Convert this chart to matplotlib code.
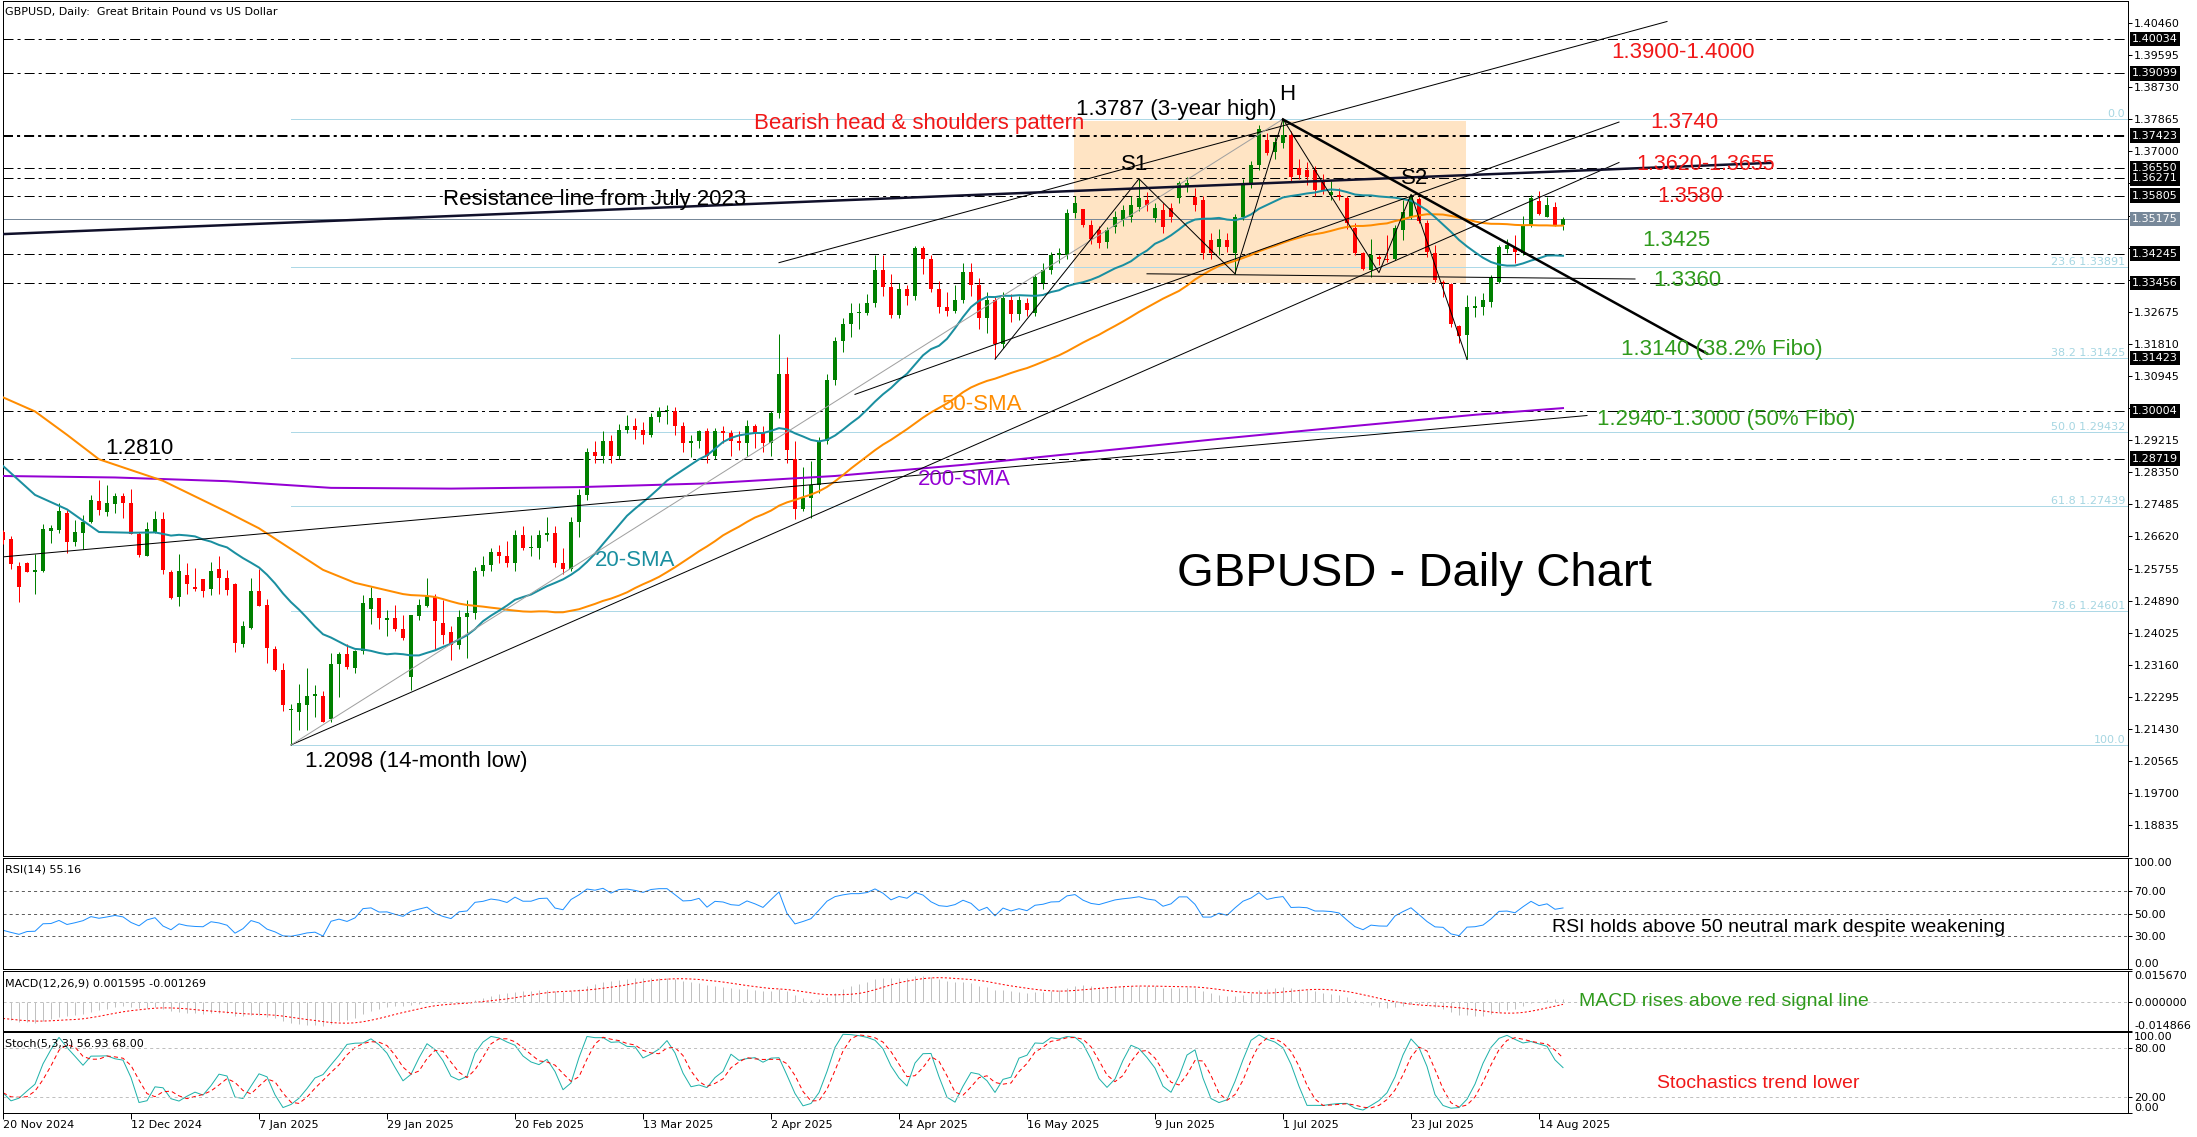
import numpy as np
import pandas as pd
import matplotlib
matplotlib.use('Agg')
import matplotlib.pyplot as plt
from matplotlib import transforms
from matplotlib.patches import Rectangle

plt.rcParams['font.family'] = ['DejaVu Sans']
plt.rcParams['font.size'] = 8
plt.rcParams['lines.scale_dashes'] = False

W, H, DPI = 2197, 1137, 100
PX = 72 / DPI  # points per pixel

# ---------------- daily GBPUSD bars (bar 0 = 20 Nov 2024, last = 19 Aug 2025) ----------------
opens = [
    1.2674, 1.2654, 1.2582, 1.2591, 1.2567, 1.2569, 1.2677, 1.2679, 1.2724, 1.2648,
    1.2672, 1.2702, 1.2757, 1.2729, 1.2749, 1.2771, 1.2751, 1.2668, 1.2610, 1.2674,
    1.2708, 1.2565, 1.2499, 1.2559, 1.2526, 1.2546, 1.2520, 1.2573, 1.2549, 1.2533,
    1.2373, 1.2415, 1.2514, 1.2476, 1.2360, 1.2303, 1.2193, 1.2190, 1.2208, 1.2233,
    1.2233, 1.2170, 1.2319, 1.2344, 1.2308, 1.2353, 1.2466, 1.2495, 1.2438, 1.2443,
    1.2413, 1.2283, 1.2448, 1.2475, 1.2499, 1.2430, 1.2405, 1.2370, 1.2445, 1.2455,
    1.2570, 1.2585, 1.2620, 1.2610, 1.2590, 1.2665, 1.2630, 1.2630, 1.2665, 1.2670,
    1.2590, 1.2575, 1.2700, 1.2775, 1.2890, 1.2880, 1.2920, 1.2880, 1.2950, 1.2960,
    1.2950, 1.2935, 1.2985, 1.3000, 1.3000, 1.2960, 1.2915, 1.2920, 1.2945, 1.2880,
    1.2945, 1.2940, 1.2920, 1.2915, 1.2960, 1.2940, 1.2915, 1.2995, 1.3100, 1.2870,
    1.2735, 1.2765, 1.2800, 1.2920, 1.3085, 1.3190, 1.3235, 1.3265, 1.3265, 1.3290,
    1.3380, 1.3335, 1.3260, 1.3330, 1.3310, 1.3440, 1.3410, 1.3330, 1.3280, 1.3270,
    1.3300, 1.3375, 1.3340, 1.3250, 1.3300, 1.3180, 1.3300, 1.3262, 1.3290, 1.3263,
    1.3344, 1.3380, 1.3420, 1.3420, 1.3533, 1.3545, 1.3501, 1.3488, 1.3456, 1.3497,
    1.3515, 1.3524, 1.3551, 1.3569, 1.3520, 1.3542, 1.3546, 1.3573, 1.3605, 1.3578,
    1.3569, 1.3461, 1.3443, 1.3461, 1.3425, 1.3524, 1.3614, 1.3663, 1.3731, 1.3699,
    1.3722, 1.3744, 1.3654, 1.3651, 1.3650, 1.3623, 1.3582, 1.3582, 1.3573, 1.3493,
    1.3425, 1.3380, 1.3416, 1.3411, 1.3411, 1.3488, 1.3524, 1.3571, 1.3508, 1.3425,
    1.3349, 1.3342, 1.3229, 1.3205, 1.3279, 1.3280, 1.3295, 1.3349, 1.3438, 1.3443,
    1.3425, 1.3501, 1.3567, 1.3524, 1.3549, 1.3501,
]
highs = [
    1.2679, 1.2663, 1.2594, 1.2594, 1.2616, 1.2695, 1.2693, 1.2751, 1.2733, 1.2706,
    1.2721, 1.2774, 1.2814, 1.2800, 1.2780, 1.2780, 1.2789, 1.2674, 1.2702, 1.2730,
    1.2727, 1.2571, 1.2614, 1.2591, 1.2576, 1.2546, 1.2594, 1.2609, 1.2571, 1.2537,
    1.2434, 1.2551, 1.2573, 1.2494, 1.2368, 1.2321, 1.2211, 1.2265, 1.2307, 1.2262,
    1.2245, 1.2348, 1.2351, 1.2373, 1.2355, 1.2504, 1.2526, 1.2497, 1.2465, 1.2478,
    1.2449, 1.2449, 1.2494, 1.2551, 1.2508, 1.2490, 1.2420, 1.2465, 1.2490, 1.2580,
    1.2610, 1.2630, 1.2640, 1.2650, 1.2680, 1.2690, 1.2665, 1.2680, 1.2715, 1.2690,
    1.2630, 1.2715, 1.2790, 1.2900, 1.2920, 1.2945, 1.2935, 1.2965, 1.2990, 1.2980,
    1.2970, 1.2995, 1.3010, 1.3015, 1.3010, 1.2970, 1.2935, 1.2950, 1.2955, 1.2955,
    1.2960, 1.2950, 1.2945, 1.2975, 1.2965, 1.2960, 1.3000, 1.3207, 1.3145, 1.2920,
    1.2850, 1.2865, 1.2930, 1.3100, 1.3200, 1.3250, 1.3290, 1.3290, 1.3315, 1.3420,
    1.3420, 1.3370, 1.3345, 1.3340, 1.3445, 1.3445, 1.3420, 1.3350, 1.3320, 1.3340,
    1.3400, 1.3400, 1.3360, 1.3320, 1.3310, 1.3320, 1.3315, 1.3310, 1.3305, 1.3370,
    1.3400, 1.3430, 1.3440, 1.3545, 1.3580, 1.3545, 1.3515, 1.3500, 1.3495, 1.3540,
    1.3555, 1.3580, 1.3626, 1.3590, 1.3560, 1.3560, 1.3560, 1.3620, 1.3630, 1.3600,
    1.3580, 1.3480, 1.3490, 1.3480, 1.3530, 1.3625, 1.3675, 1.3771, 1.3750, 1.3740,
    1.3787, 1.3755, 1.3680, 1.3670, 1.3660, 1.3640, 1.3620, 1.3600, 1.3580, 1.3506,
    1.3430, 1.3465, 1.3420, 1.3474, 1.3501, 1.3569, 1.3584, 1.3578, 1.3515, 1.3447,
    1.3353, 1.3344, 1.3232, 1.3313, 1.3310, 1.3317, 1.3367, 1.3447, 1.3465, 1.3474,
    1.3527, 1.3582, 1.3594, 1.3578, 1.3564, 1.3524,
]
lows = [
    1.2643, 1.2575, 1.2486, 1.2565, 1.2508, 1.2567, 1.2645, 1.2672, 1.2618, 1.2636,
    1.2629, 1.2697, 1.2719, 1.2717, 1.2724, 1.2713, 1.2668, 1.2607, 1.2610, 1.2670,
    1.2562, 1.2493, 1.2475, 1.2508, 1.2514, 1.2499, 1.2504, 1.2508, 1.2505, 1.2351,
    1.2364, 1.2413, 1.2475, 1.2321, 1.2299, 1.2191, 1.2100, 1.2139, 1.2139, 1.2175,
    1.2161, 1.2161, 1.2229, 1.2305, 1.2294, 1.2346, 1.2427, 1.2413, 1.2393, 1.2407,
    1.2382, 1.2247, 1.2436, 1.2472, 1.2357, 1.2373, 1.2330, 1.2360, 1.2335, 1.2440,
    1.2555, 1.2570, 1.2590, 1.2580, 1.2570, 1.2625, 1.2610, 1.2600, 1.2650, 1.2580,
    1.2560, 1.2570, 1.2660, 1.2760, 1.2860, 1.2860, 1.2860, 1.2870, 1.2940, 1.2925,
    1.2910, 1.2930, 1.2970, 1.2965, 1.2935, 1.2890, 1.2875, 1.2900, 1.2860, 1.2870,
    1.2915, 1.2880, 1.2895, 1.2880, 1.2900, 1.2890, 1.2880, 1.2980, 1.2860, 1.2708,
    1.2730, 1.2712, 1.2780, 1.2910, 1.3070, 1.3160, 1.3200, 1.3220, 1.3260, 1.3280,
    1.3310, 1.3250, 1.3250, 1.3285, 1.3300, 1.3370, 1.3320, 1.3265, 1.3255, 1.3265,
    1.3290, 1.3310, 1.3220, 1.3210, 1.3140, 1.3170, 1.3240, 1.3245, 1.3255, 1.3255,
    1.3330, 1.3370, 1.3400, 1.3410, 1.3520, 1.3495, 1.3450, 1.3440, 1.3440, 1.3480,
    1.3500, 1.3510, 1.3540, 1.3540, 1.3510, 1.3480, 1.3510, 1.3560, 1.3590, 1.3540,
    1.3410, 1.3410, 1.3420, 1.3430, 1.3370, 1.3515, 1.3600, 1.3650, 1.3690, 1.3680,
    1.3710, 1.3620, 1.3625, 1.3610, 1.3580, 1.3585, 1.3570, 1.3570, 1.3490, 1.3420,
    1.3380, 1.3362, 1.3393, 1.3402, 1.3407, 1.3461, 1.3519, 1.3506, 1.3416, 1.3349,
    1.3308, 1.3227, 1.3184, 1.3139, 1.3254, 1.3259, 1.3281, 1.3346, 1.3425, 1.3398,
    1.3420, 1.3495, 1.3528, 1.3522, 1.3499, 1.3488,
]
closes = [
    1.2652, 1.2587, 1.2526, 1.2567, 1.2571, 1.2681, 1.2685, 1.2731, 1.2648, 1.2673,
    1.2702, 1.2760, 1.2733, 1.2751, 1.2771, 1.2751, 1.2668, 1.2612, 1.2681, 1.2708,
    1.2571, 1.2497, 1.2568, 1.2533, 1.2520, 1.2515, 1.2569, 1.2551, 1.2517, 1.2375,
    1.2421, 1.2514, 1.2475, 1.2361, 1.2303, 1.2208, 1.2198, 1.2213, 1.2231, 1.2238,
    1.2161, 1.2319, 1.2346, 1.2310, 1.2353, 1.2483, 1.2495, 1.2441, 1.2443, 1.2413,
    1.2387, 1.2449, 1.2476, 1.2501, 1.2434, 1.2396, 1.2370, 1.2445, 1.2455, 1.2570,
    1.2585, 1.2620, 1.2610, 1.2590, 1.2665, 1.2630, 1.2630, 1.2665, 1.2670, 1.2590,
    1.2575, 1.2700, 1.2775, 1.2890, 1.2880, 1.2920, 1.2880, 1.2950, 1.2960, 1.2950,
    1.2935, 1.2985, 1.3000, 1.3000, 1.2960, 1.2915, 1.2920, 1.2945, 1.2880, 1.2945,
    1.2940, 1.2920, 1.2915, 1.2960, 1.2940, 1.2915, 1.2995, 1.3100, 1.2895, 1.2735,
    1.2765, 1.2800, 1.2920, 1.3085, 1.3190, 1.3235, 1.3265, 1.3265, 1.3290, 1.3380,
    1.3335, 1.3260, 1.3330, 1.3310, 1.3440, 1.3410, 1.3330, 1.3280, 1.3270, 1.3300,
    1.3375, 1.3340, 1.3250, 1.3300, 1.3180, 1.3305, 1.3262, 1.3300, 1.3272, 1.3362,
    1.3380, 1.3420, 1.3425, 1.3533, 1.3560, 1.3501, 1.3465, 1.3452, 1.3488, 1.3524,
    1.3542, 1.3555, 1.3573, 1.3555, 1.3546, 1.3497, 1.3524, 1.3614, 1.3614, 1.3555,
    1.3425, 1.3425, 1.3465, 1.3443, 1.3524, 1.3614, 1.3663, 1.3760, 1.3695, 1.3726,
    1.3744, 1.3632, 1.3636, 1.3630, 1.3596, 1.3596, 1.3591, 1.3578, 1.3506, 1.3425,
    1.3382, 1.3420, 1.3409, 1.3407, 1.3493, 1.3537, 1.3578, 1.3511, 1.3429, 1.3353,
    1.3346, 1.3236, 1.3202, 1.3280, 1.3284, 1.3299, 1.3358, 1.3443, 1.3447, 1.3429,
    1.3499, 1.3573, 1.3531, 1.3555, 1.3501, 1.3517,
]

# date labels on the time axis (every 16 bars)
date_ticks = [0, 16, 32, 48, 64, 80, 96, 112, 128, 144, 160, 176, 192]
date_labels = ['20 Nov 2024', '12 Dec 2024', '7 Jan 2025', '29 Jan 2025', '20 Feb 2025',
               '13 Mar 2025', '2 Apr 2025', '24 Apr 2025', '16 May 2025', '9 Jun 2025',
               '1 Jul 2025', '23 Jul 2025', '14 Aug 2025']

# moving averages before their window is full
sma20_head_bar = [0, 4, 8, 12, 16]
sma20_head = [1.2852, 1.2774, 1.2735, 1.2674, 1.2672]
sma50_head_bar = [0, 4, 8, 12, 16, 20, 24, 28, 32, 36, 40, 44]
sma50_head = [1.3037, 1.2999, 1.2936, 1.2870, 1.2841, 1.2812, 1.2770, 1.2728,
              1.2684, 1.2628, 1.2572, 1.2537]
sma200_bar = [0, 14, 28, 41, 56, 72, 88, 104, 120, 136, 152, 168, 184, 195]
sma200 = [1.2825, 1.2821, 1.2811, 1.2793, 1.2791, 1.2795, 1.2805, 1.2825, 1.2855,
          1.2890, 1.2925, 1.2958, 1.2990, 1.3008]

# indicator state on the first bar
EMA12_START, EMA26_START = 1.2760, 1.2845
RSI_GAIN_START, RSI_LOSS_START = 0.0030, 0.0056

# horizontal levels
dash_levels = [1.40034, 1.39099, 1.37423, 1.36550, 1.36271, 1.35805, 1.34245,
               1.33456, 1.30004, 1.28719]
box_levels = [1.40034, 1.39099, 1.37423, 1.36550, 1.36271, 1.35805, 1.34245,
              1.33456, 1.31423, 1.30004, 1.28719]
last_price = 1.35175
fibo_high, fibo_low = 1.37877, 1.20987
fibo_ratios = [0.0, 23.6, 38.2, 50.0, 61.8, 78.6, 100.0]

# drawn objects (bar, price)
res_line = ([0, 221], [1.3477, 1.3669])
desc_line = ([160, 213], [1.3786, 1.3155])
chan_low = ([36, 202], [1.2100, 1.3670])
chan_mid = ([106.5, 202], [1.3045, 1.3779])
chan_up = ([97, 208], [1.3400, 1.4050])
grey_line = ([36, 160], [1.2100, 1.3787])
long_line = ([0, 198], [1.2607, 1.2988])
neckline = ([143, 204], [1.3370, 1.3356])
zigzag_bar = [124, 142, 154, 160, 172, 176, 183]
zigzag_px = [1.3140, 1.3626, 1.3370, 1.3787, 1.3373, 1.3584, 1.3139]
hs_box = (133.9, 182.9, 1.33452, 1.3782)

# ---------------- indicators ----------------
n = len(closes)
bars = np.arange(n)
o, h, l, c = map(np.array, (opens, highs, lows, closes))
cs = pd.Series(c)

sma20_x = sma20_head_bar + list(range(19, n))
sma20_y = sma20_head + list(cs.rolling(20).mean()[19:])
sma50_x = sma50_head_bar + list(range(49, n))
sma50_y = sma50_head + list(cs.rolling(50).mean()[49:])

ema12, ema26 = [EMA12_START], [EMA26_START]
for cl in c[1:]:
    ema12.append(ema12[-1] + (cl - ema12[-1]) * 2 / 13)
    ema26.append(ema26[-1] + (cl - ema26[-1]) * 2 / 27)
macd = np.array(ema12) - np.array(ema26)
signal = pd.Series(macd).rolling(9, min_periods=1).mean().values

gain, loss = RSI_GAIN_START, RSI_LOSS_START
rsi = [100 - 100 / (1 + gain / loss)]
for d in np.diff(c):
    gain = (gain * 13 + max(d, 0)) / 14
    loss = (loss * 13 + max(-d, 0)) / 14
    rsi.append(100 - 100 / (1 + gain / loss))

hh = pd.Series(h).rolling(5, min_periods=1).max()
ll = pd.Series(l).rolling(5, min_periods=1).min()
stoch_k = 100 * (cs - ll).rolling(3, min_periods=1).sum() / (hh - ll).rolling(3, min_periods=1).sum()
stoch_d = stoch_k.rolling(3, min_periods=1).mean()

# ---------------- figure ----------------
GREEN, RED = '#008000', '#ff0000'
TXT_RED, TXT_GREEN = '#f01818', '#2f9a1c'
FIBO = '#add8e6'

fig = plt.figure(figsize=(W / DPI, H / DPI), dpi=DPI)
fig.patch.set_facecolor('white')
X0, X1 = 2.5, 2128.0


def panel(top, bottom):
    a = fig.add_axes([X0 / W, 1 - bottom / H, (X1 - X0) / W, (bottom - top) / H])
    a.set_xlim(-0.0625, 265.625)
    for s in a.spines.values():
        s.set_linewidth(PX)
    a.tick_params(axis='x', bottom=False, labelbottom=False)
    a.yaxis.tick_right()
    a.tick_params(axis='y', direction='out', length=4 * PX, width=PX, pad=1.5, labelsize=8)
    return a


ax = panel(1, 856)
ax_rsi = panel(858, 969)
ax_macd = panel(971, 1031)
ax_st = panel(1032, 1113)

# main price panel
ax.set_ylim(1.18007, 1.41053)
yt = 1.40460 - 0.00865 * np.arange(26)
ax.set_yticks(yt)
# labels that sit under a price box are not shown
ax.set_yticklabels(['' if min(abs(v - b) for b in box_levels + [last_price]) < 0.0032
                    else f'{v:.5f}' for v in yt])

ax.add_patch(Rectangle((hs_box[0], hs_box[2]), hs_box[1] - hs_box[0], hs_box[3] - hs_box[2],
                       fc='#ffe4c4', ec='none', zorder=0.5))

DASHDOT = (0, (7.2, 2.9, 2.2, 2.9))
for v in dash_levels:
    ax.axhline(v, color='black', lw=(2 if v == 1.37423 else 1) * PX, ls=DASHDOT, zorder=2)
ax.axhline(last_price, color='#778899', lw=PX, zorder=2)

blend = transforms.blended_transform_factory(ax.transAxes, ax.transData)
for r in fibo_ratios:
    v = fibo_high - (fibo_high - fibo_low) * r / 100
    ax.plot([36, 266], [v, v], color=FIBO, lw=PX, zorder=1)
    lab = f'{r:.1f}' if r in (0.0, 100.0) else f'{r:.1f} {v:.5f}'
    ax.text((2125 - X0) / (X1 - X0), v, lab, transform=blend, ha='right', va='bottom',
            color='#a6d6e2', fontsize=8, zorder=2)

# candles
col = np.where(c >= o, GREEN, RED)
ax.vlines(bars, l, h, colors=col, lw=PX, zorder=3)
ax.bar(bars, np.maximum(np.abs(c - o), 0.00025), bottom=np.minimum(o, c), width=0.62,
       color=col, lw=0, zorder=3)

# moving averages
ax.plot(sma200_bar, sma200, color='#9400d3', lw=2 * PX, zorder=4)
ax.plot(sma50_x, sma50_y, color='#ff8c00', lw=2 * PX, zorder=4)
ax.plot(sma20_x, sma20_y, color='#1a8fa0', lw=2 * PX, zorder=4)

# trend lines and pattern lines
for xs, ys in (chan_low, chan_mid, chan_up, long_line, neckline):
    ax.plot(xs, ys, color='black', lw=PX, zorder=4)
ax.plot(*grey_line, color='#a0a0a0', lw=PX, zorder=4)
ax.plot(zigzag_bar, zigzag_px, color='black', lw=PX, zorder=4)
ax.plot(*res_line, color='#10102a', lw=2.5 * PX, zorder=4)
ax.plot(*desc_line, color='black', lw=2.5 * PX, zorder=4)

# price boxes on the right axis
for v in box_levels:
    ax.text((2132 - X0) / (X1 - X0), v, f'{v:.5f}', transform=blend, ha='left', va='center',
            color='white', fontsize=8, clip_on=False, zorder=6,
            bbox=dict(boxstyle='square,pad=0.2', fc='black', ec='none'))
ax.text((2132 - X0) / (X1 - X0), last_price, f'{last_price:.5f}', transform=blend, ha='left',
        va='center', color='white', fontsize=8, clip_on=False, zorder=6,
        bbox=dict(boxstyle='square,pad=0.2', fc='#778899', ec='none'))

# RSI panel
ax_rsi.set_ylim(0, 100)
ax_rsi.plot(bars, rsi, color='#1e90ff', lw=PX)
for v in (70, 50, 30):
    ax_rsi.axhline(v, color='#606060', lw=PX, ls=(0, (2.2, 2.2)))
ax_rsi.set_yticks([0, 30, 50, 70, 100])
ax_rsi.set_yticklabels(['0.00', '30.00', '50.00', '70.00', '100.00'])

# MACD panel
ax_macd.set_ylim(-0.014866, 0.015670)
ax_macd.vlines(bars, 0, macd, colors='#c0c0c0', lw=PX)
ax_macd.plot(bars, signal, color='red', lw=PX, ls=(0, (1.5, 1.5)))
ax_macd.axhline(0, color='#c0c0c0', lw=PX, ls=(0, (2.2, 2.2)))
ax_macd.set_yticks([-0.014866, 0, 0.015670])
ax_macd.set_yticklabels(['-0.014866', '0.000000', '0.015670'])

# Stochastic panel
ax_st.set_ylim(0, 100)
ax_st.plot(bars, stoch_k, color='#20b2aa', lw=PX)
ax_st.plot(bars, stoch_d, color='red', lw=PX, ls=(0, (3, 2.2)))
for v in (80, 20):
    ax_st.axhline(v, color='#c0c0c0', lw=PX, ls=(0, (2.2, 2.2)))
ax_st.set_yticks([0, 20, 80, 100])
ax_st.set_yticklabels(['0.00', '20.00', '80.00', '100.00'])

for a in (ax_rsi, ax_macd, ax_st):
    labs = a.get_yticklabels()
    labs[0].set_va('bottom')
    labs[-1].set_va('top')

ax_st.tick_params(axis='x', bottom=True, labelbottom=True, direction='out',
                  length=6 * PX, width=PX, pad=0.5, labelsize=8)
ax_st.set_xticks(date_ticks)
ax_st.set_xticklabels(date_labels)
for t in ax_st.get_xticklabels():
    t.set_ha('left')


# ---------------- texts ----------------
def put(s, x, y, color='black', size=16, family='Liberation Sans', ha='left', va='center'):
    fig.text(x / W, 1 - y / H, s, color=color, fontsize=size, family=family, ha=ha, va=va)


put('GBPUSD, Daily:  Great Britain Pound vs US Dollar', 5, 12, size=8, family='DejaVu Sans')
put('RSI(14) 55.16', 5, 870, size=8, family='DejaVu Sans')
put('MACD(12,26,9) 0.001595 -0.001269', 5, 983, size=8, family='DejaVu Sans')
put('Stoch(5,3,3) 56.93 68.00', 5, 1044, size=8, family='DejaVu Sans')

put('1.3900-1.4000', 1611, 53, TXT_RED)
put('1.3740', 1650, 123, TXT_RED)
put('1.3620-1.3655', 1636, 164, TXT_RED, size=15.5)
put('1.3580', 1657, 197, TXT_RED, size=15.5)
put('1.3425', 1642, 241, TXT_GREEN)
put('1.3360', 1653, 280, TXT_GREEN)
put('1.3140 (38.2% Fibo)', 1621, 350, TXT_GREEN)
put('1.2940-1.3000 (50% Fibo)', 1597, 420, TXT_GREEN)
put('Bearish head & shoulders pattern', 754, 123, TXT_RED)
put('1.3787 (3-year high)', 1076, 109)
put('H', 1279, 95)
put('S1', 1121, 165)
put('S2', 1401, 178)
put('Resistance line from July 2023', 443, 199)
put('50-SMA', 941, 405, '#ff8c00')
put('20-SMA', 595, 560, '#1a8fa0')
put('200-SMA', 918, 479, '#9400d3')
put('1.2810', 105, 448)
put('1.2098 (14-month low)', 305, 761)
put('GBPUSD - Daily Chart', 1177, 574, size=34)
put('RSI holds above 50 neutral mark despite weakening', 1552, 927, size=14)
put('MACD rises above red signal line', 1579, 1002, TXT_GREEN, size=14)
put('Stochastics trend lower', 1657, 1083, TXT_RED, size=14)

fig.savefig('out.png', dpi=DPI)
